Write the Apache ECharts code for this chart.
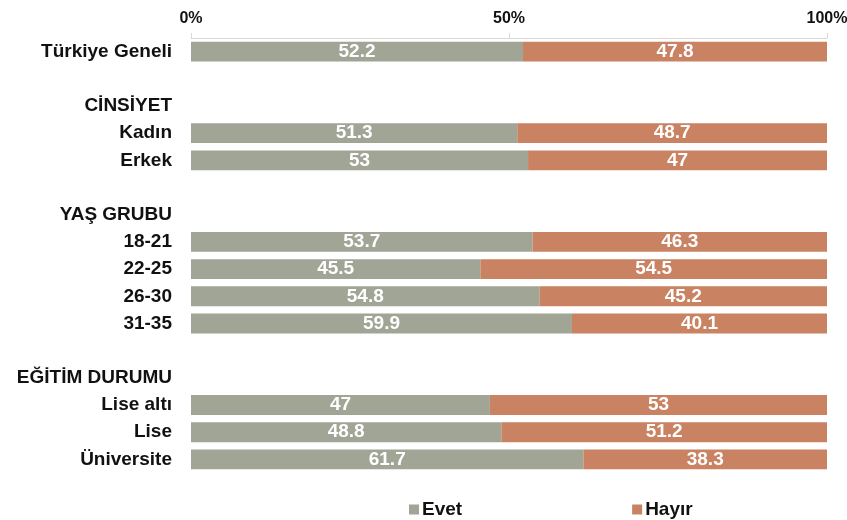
<!DOCTYPE html>
<html><head><meta charset="utf-8">
<script src="https://cdn.jsdelivr.net/npm/echarts@6/dist/echarts.min.js"></script>
<style>html,body{margin:0;padding:0;background:#fff}#c{width:847px;height:520px}</style>
</head><body><div id="c"></div>
<script>
const categories = ['Türkiye Geneli', '', 'CİNSİYET', 'Kadın', 'Erkek', '', 'YAŞ GRUBU', '18-21', '22-25', '26-30', '31-35', '', 'EĞİTİM DURUMU', 'Lise altı', 'Lise', 'Üniversite'];
const evet  = [52.2, null, null, 51.3, 53, null, null, 53.7, 45.5, 54.8, 59.9, null, null, 47, 48.8, 61.7];
const hayir = [47.8, null, null, 48.7, 47, null, null, 46.3, 54.5, 45.2, 40.1, null, null, 53, 51.2, 38.3];
const xTicks = [0, 50, 100];

const FONT = '"Liberation Sans", Arial, sans-serif';
const chart = echarts.init(document.getElementById('c'), null, {renderer: 'canvas'});
const lbl = {show: true, position: 'inside', color: '#fff', fontFamily: FONT, fontWeight: 'bold', fontSize: 19,
  formatter: p => p.value == null ? '' : String(p.value)};
chart.setOption({
  animation: false,
  grid: {left: 191, right: 20, top: 38, bottom: 47, containLabel: false, outerBoundsMode: 'none'},
  xAxis: {type: 'value', position: 'top', min: xTicks[0], max: xTicks[2], interval: 50,
    axisLine: {show: true, lineStyle: {color: '#d9d9d9', width: 1}},
    axisTick: {show: true, length: 5, lineStyle: {color: '#d9d9d9'}},
    splitLine: {show: false},
    axisLabel: {formatter: '{value}%', color: '#111', fontFamily: FONT, fontWeight: 'bold', fontSize: 16, margin: 11}},
  yAxis: {type: 'category', inverse: true, data: categories,
    axisLine: {show: false}, axisTick: {show: false},
    axisLabel: {interval: 0, color: '#111', fontFamily: FONT, fontWeight: 'bold', fontSize: 19, margin: 19}},
  legend: {left: 404, top: 495, icon: 'rect', itemWidth: 10, itemHeight: 10, itemGap: 170,
    textStyle: {color: '#111', fontFamily: FONT, fontWeight: 'bold', fontSize: 19, padding: [0, 0, 0, -2]},
    data: ['Evet', 'Hayır']},
  series: [
    {name: 'Evet', type: 'bar', stack: 't', data: evet, barWidth: '73%', itemStyle: {color: '#A1A595'}, label: lbl},
    {name: 'Hayır', type: 'bar', stack: 't', data: hayir, barWidth: '73%', itemStyle: {color: '#C98262'}, label: lbl}
  ]
});
</script></body></html>
